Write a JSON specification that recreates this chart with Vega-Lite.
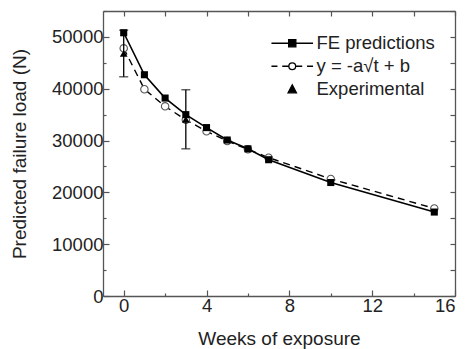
{
  "$schema": "https://vega.github.io/schema/vega-lite/v6.json",
  "autosize": "none",
  "width": 352,
  "height": 285,
  "padding": {"left": 103, "top": 11, "right": 11, "bottom": 53},
  "background": "white",
  "config": {
    "view": {"stroke": null},
    "font": "Liberation Sans",
    "axis": {"grid": false, "domainColor": "#555", "domainWidth": 1.3, "tickColor": "#555", "tickWidth": 1.2, "labelFont": "Liberation Sans", "labelFontSize": 18.5, "labelColor": "#222", "titleFont": "Liberation Sans", "titleFontSize": 19, "titleFontWeight": "normal", "titleColor": "#222"},
    "legend": {"labelFont": "Liberation Sans", "labelFontSize": 18.5, "labelColor": "#222"}
  },
  "data": {
    "values": [
      {"series": "FE predictions", "week": 0, "load": 50800},
      {"series": "FE predictions", "week": 1, "load": 42700},
      {"series": "FE predictions", "week": 2, "load": 38200},
      {"series": "FE predictions", "week": 3, "load": 35000},
      {"series": "FE predictions", "week": 4, "load": 32500},
      {"series": "FE predictions", "week": 5, "load": 30100},
      {"series": "FE predictions", "week": 6, "load": 28400},
      {"series": "FE predictions", "week": 7, "load": 26300},
      {"series": "FE predictions", "week": 10, "load": 21900},
      {"series": "FE predictions", "week": 15, "load": 16200},
      {"series": "y = -a√t + b", "week": 0, "load": 47800},
      {"series": "y = -a√t + b", "week": 1, "load": 39900},
      {"series": "y = -a√t + b", "week": 2, "load": 36600},
      {"series": "y = -a√t + b", "week": 3, "load": 34000},
      {"series": "y = -a√t + b", "week": 4, "load": 31800},
      {"series": "y = -a√t + b", "week": 5, "load": 29900},
      {"series": "y = -a√t + b", "week": 6, "load": 28300},
      {"series": "y = -a√t + b", "week": 7, "load": 26700},
      {"series": "y = -a√t + b", "week": 10, "load": 22600},
      {"series": "y = -a√t + b", "week": 15, "load": 16900},
      {"series": "Experimental", "week": 0, "load": 46800, "lo": 42300, "hi": 51300},
      {"series": "Experimental", "week": 3, "load": 34100, "lo": 28400, "hi": 39800}
    ]
  },
  "resolve": {"axis": {"x": "independent", "y": "independent"}},
  "layer": [
    {
      "transform": [{"filter": "datum.series === 'y = -a√t + b'"}],
      "mark": {"type": "line", "color": "black", "strokeWidth": 1.4, "strokeDash": [7, 5]},
      "encoding": {
        "x": {"field": "week", "type": "quantitative", "scale": {"domain": [-1, 16], "nice": false, "zero": false},
          "axis": {"orient": "bottom", "title": "Weeks of exposure", "values": [0, 2, 4, 6, 8, 10, 12, 14, 16], "labelExpr": "datum.value % 4 == 0 ? datum.label : ''", "tickSize": {"condition": {"test": "datum.value % 4 == 0", "value": -6}, "value": -3}, "labelPadding": 6, "titlePadding": 15}},
        "y": {"field": "load", "type": "quantitative", "scale": {"domain": [0, 55000], "nice": false},
          "axis": {"orient": "left", "title": "Predicted failure load (N)", "format": "d", "values": [0, 5000, 10000, 15000, 20000, 25000, 30000, 35000, 40000, 45000, 50000, 55000], "labelExpr": "datum.value % 10000 == 0 ? datum.label : ''", "tickSize": {"condition": {"test": "datum.value % 10000 == 0", "value": -6}, "value": -3}, "labelPadding": 6, "titlePadding": 22}}
      }
    },
    {
      "transform": [{"filter": "datum.series === 'y = -a√t + b'"}],
      "mark": {"type": "point", "shape": "circle", "filled": true, "fill": "white", "stroke": "#555", "strokeWidth": 1.1, "size": 55, "opacity": 1},
      "encoding": {
        "x": {"field": "week", "type": "quantitative", "axis": null},
        "y": {"field": "load", "type": "quantitative", "axis": null}
      }
    },
    {
      "transform": [{"filter": "datum.series === 'FE predictions'"}],
      "mark": {"type": "line", "color": "black", "strokeWidth": 1.6},
      "encoding": {
        "x": {"field": "week", "type": "quantitative", "axis": null},
        "y": {"field": "load", "type": "quantitative", "axis": null}
      }
    },
    {
      "transform": [{"filter": "datum.series === 'FE predictions'"}],
      "mark": {"type": "point", "shape": "square", "filled": true, "color": "black", "size": 50, "opacity": 1},
      "encoding": {
        "x": {"field": "week", "type": "quantitative", "axis": null},
        "y": {"field": "load", "type": "quantitative", "axis": null}
      }
    },
    {
      "transform": [{"filter": "datum.series === 'Experimental'"}],
      "mark": {"type": "errorbar", "color": "black", "thickness": 1.3, "ticks": {"size": 9, "thickness": 1.3, "color": "black"}},
      "encoding": {
        "x": {"field": "week", "type": "quantitative", "axis": null},
        "y": {"field": "lo", "type": "quantitative", "axis": null},
        "y2": {"field": "hi"}
      }
    },
    {
      "transform": [{"filter": "datum.series === 'Experimental'"}],
      "mark": {"type": "point", "shape": "triangle-up", "filled": true, "color": "black", "size": 60, "opacity": 1},
      "encoding": {
        "x": {"field": "week", "type": "quantitative", "axis": null},
        "y": {"field": "load", "type": "quantitative", "axis": null}
      }
    },
    {
      "mark": {"type": "point", "filled": true, "opacity": 0, "stroke": "black", "strokeWidth": 1.3, "size": 64},
      "encoding": {
        "x": {"field": "week", "type": "quantitative",
          "axis": {"orient": "top", "title": null, "labels": false, "values": [0, 2, 4, 6, 8, 10, 12, 14, 16], "tickSize": -5}},
        "y": {"field": "load", "type": "quantitative",
          "axis": {"orient": "right", "title": null, "labels": false, "values": [0, 5000, 10000, 15000, 20000, 25000, 30000, 35000, 40000, 45000, 50000, 55000], "tickSize": -5}},
        "shape": {"field": "series", "type": "nominal",
          "scale": {"domain": ["FE predictions", "y = -a√t + b", "Experimental"],
            "range": ["M-5.2,0H5.2M-0.9,-0.9H0.9V0.9H-0.9Z", "M-5.2,0H-3.7M-2.5,0H-0.85M0.85,0H2.5M3.7,0H5.2M0.85,0A0.85,0.85,0,1,1,-0.85,0A0.85,0.85,0,1,1,0.85,0Z", "M0,-1.1L1.05,0.9L-1.05,0.9Z"]},
          "legend": {"orient": "none", "legendX": 180, "legendY": 23, "title": null, "symbolSize": 64, "labelOffset": 15, "rowPadding": 4, "padding": 0, "symbolStrokeWidth": 1.3}},
        "color": {"field": "series", "type": "nominal",
          "scale": {"domain": ["FE predictions", "y = -a√t + b", "Experimental"], "range": ["black", "white", "black"]},
          "legend": {"orient": "none", "legendX": 180, "legendY": 23, "title": null, "symbolSize": 64, "labelOffset": 15, "rowPadding": 4, "padding": 0, "symbolStrokeWidth": 1.3}}
      }
    }
  ]
}
